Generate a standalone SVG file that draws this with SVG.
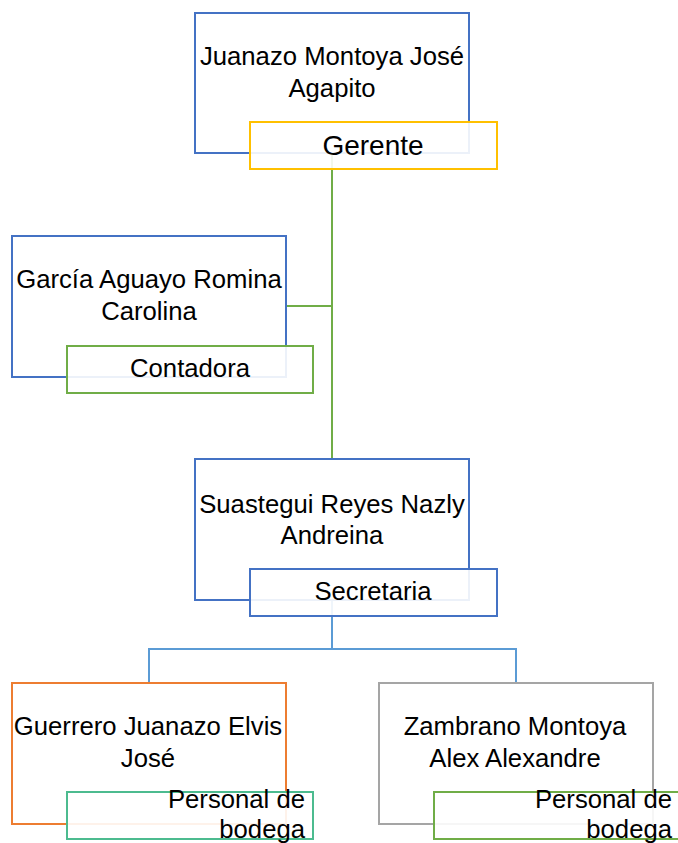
<svg xmlns="http://www.w3.org/2000/svg" width="678" height="843" viewBox="0 0 678 843">
<style>
  .main { fill: #ffffff; stroke-width: 2; }
  .lab { fill: #ffffff; fill-opacity: 0.9; stroke-width: 2; }
  .t { font-family: "Liberation Sans", Arial, sans-serif; font-size: 25.7px; fill: #000000; text-anchor: middle; }
  .tr { font-family: "Liberation Sans", Arial, sans-serif; font-size: 25.7px; fill: #000000; text-anchor: end; }
  .g { fill: none; stroke: #70AD47; stroke-width: 2; }
  .b { fill: none; stroke: #5B9BD5; stroke-width: 2; }
</style>
<rect width="678" height="843" fill="#ffffff"/>
<g id="connectors">
  <path class="g" d="M332 153 V459 M286 306 H332"/>
  <path class="b" d="M332 600 V649 M149 683 V649 H516 V683"/>
</g>
<g id="node-gerente">
  <rect class="main" x="195" y="13" width="274" height="140" stroke="#4472C4"/>
  <text class="t" x="332" y="65">Juanazo Montoya José</text>
  <text class="t" x="332" y="97">Agapito</text>
  <rect class="lab" x="250" y="122" width="247" height="47" stroke="#FFC000"/>
  <text class="t" x="373" y="155" style="font-size:28px">Gerente</text>
</g>
<g id="node-contadora">
  <rect class="main" x="12" y="236" width="274" height="141" stroke="#4472C4"/>
  <text class="t" x="149" y="288">García Aguayo Romina</text>
  <text class="t" x="149" y="320">Carolina</text>
  <rect class="lab" x="67" y="346" width="246" height="47" stroke="#70AD47"/>
  <text class="t" x="190" y="377">Contadora</text>
</g>
<g id="node-secretaria">
  <rect class="main" x="195" y="459" width="274" height="141" stroke="#4472C4"/>
  <text class="t" x="332" y="513">Suastegui Reyes Nazly</text>
  <text class="t" x="332" y="544">Andreina</text>
  <rect class="lab" x="250" y="569" width="247" height="47" stroke="#4472C4"/>
  <text class="t" x="373" y="600">Secretaria</text>
</g>
<g id="node-guerrero">
  <rect class="main" x="12" y="683" width="274" height="141" stroke="#ED7D31"/>
  <text class="t" x="148" y="735">Guerrero Juanazo Elvis</text>
  <text class="t" x="148" y="767">José</text>
  <rect class="lab" x="67" y="792" width="246" height="47" stroke="#4CBB8F"/>
  <text class="tr" x="305" y="808">Personal de</text>
  <text class="tr" x="305" y="838">bodega</text>
</g>
<g id="node-zambrano">
  <rect class="main" x="379" y="683" width="274" height="141" stroke="#A5A5A5"/>
  <text class="t" x="515" y="735">Zambrano Montoya</text>
  <text class="t" x="515" y="767">Alex Alexandre</text>
  <rect class="lab" x="434" y="792" width="246" height="47" stroke="#70AD47"/>
  <text class="tr" x="672" y="808">Personal de</text>
  <text class="tr" x="672" y="838">bodega</text>
</g>
</svg>
